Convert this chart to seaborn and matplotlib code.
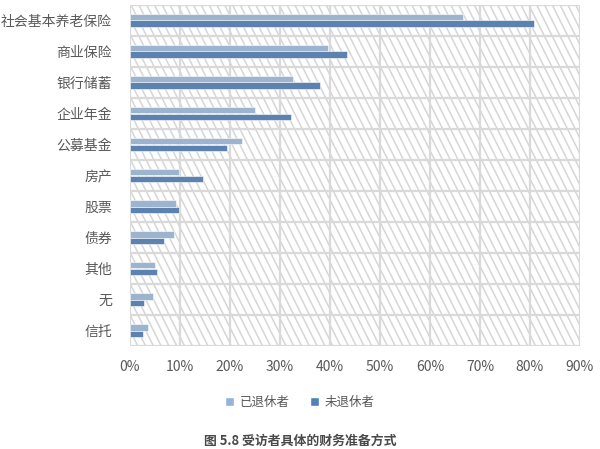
import numpy as np
import pandas as pd
import matplotlib
matplotlib.use("Agg")
import matplotlib.pyplot as plt
from matplotlib.patches import Rectangle
from matplotlib.collections import LineCollection
import seaborn as sns

# data (percent)
categories = ["社会基本养老保险", "商业保险", "银行储蓄", "企业年金", "公募基金",
              "房产", "股票", "债券", "其他", "无", "信托"]
retired = [66.5, 39.6, 32.5, 25.0, 22.3, 9.8, 9.2, 8.7, 4.9, 4.5, 3.5]
working = [80.8, 43.4, 37.9, 32.2, 19.3, 14.5, 9.8, 6.7, 5.3, 2.8, 2.5]
series = ["已退休者", "未退休者"]
colors = ["#95b3d7", "#4f81bd"]
xticks = list(range(0, 91, 10))
xlabels = [f"{t}%" for t in xticks]
caption = "图 5.8 受访者具体的财务准备方式"

df = pd.DataFrame({
    "cat": categories * 2,
    "val": retired + working,
    "grp": [series[0]] * len(categories) + [series[1]] * len(categories),
})

sns.set_style("white")
plt.rcParams["font.family"] = ["Noto Sans CJK SC", "DejaVu Sans"]

W, H = 600, 449
fig = plt.figure(figsize=(W / 100, H / 100), dpi=100)
ax_l, ax_b, ax_w, ax_h = 130 / W, (H - 346) / H, 450 / W, 341 / H
ax = fig.add_axes([ax_l, ax_b, ax_w, ax_h])

# steep diagonal hatch in the background (pixel based, slope ~2)
pw, ph = ax_w * W, ax_h * H
segs = []
for x0 in np.arange(-ph / 2, pw, 7.8):
    segs.append([(x0 / pw, 1), ((x0 + ph / 2) / pw, 0)])
hatch = LineCollection(segs, colors="#d6d6d6", linewidths=1.1,
                       transform=ax.transAxes, zorder=0)
ax.add_collection(hatch)

sns.barplot(data=df, x="val", y="cat", hue="grp", palette=colors, orient="h",
            width=0.45, ax=ax, legend=False, zorder=3,
            edgecolor="white", linewidth=0.4)

ax.set_xlim(0, 90)
ax.set_ylim(len(categories) - 0.5, -0.5)
for t in xticks:
    ax.axvline(t, color="#d9d9d9", lw=1.6, zorder=1)
for y in np.arange(-0.5, len(categories), 1):
    ax.axhline(y, color="#d9d9d9", lw=1.6, zorder=1)

for s in ax.spines.values():
    s.set_visible(False)
ax.set_xticks(xticks)
ax.set_xticklabels(xlabels)
ax.set_xlabel("")
ax.set_ylabel("")
ax.tick_params(axis="x", length=0, pad=10, labelsize=10, labelcolor="#595959")
ax.tick_params(axis="y", length=0, pad=13, labelsize=10, labelcolor="#595959")

handles = [Rectangle((0, 0), 1, 1, facecolor=c) for c in colors]
fig.legend(handles, series, loc="center", bbox_to_anchor=(0.5, (H - 402) / H), ncol=2,
           frameon=False, fontsize=9, labelcolor="#595959",
           handlelength=0.7, handleheight=0.7, handletextpad=0.5, columnspacing=1.6)

fig.text(0.5, (H - 441) / H, caption, ha="center", va="center", fontsize=9.3,
         color="#4a4a4a", fontweight="bold")

fig.savefig("out.png", dpi=100)
